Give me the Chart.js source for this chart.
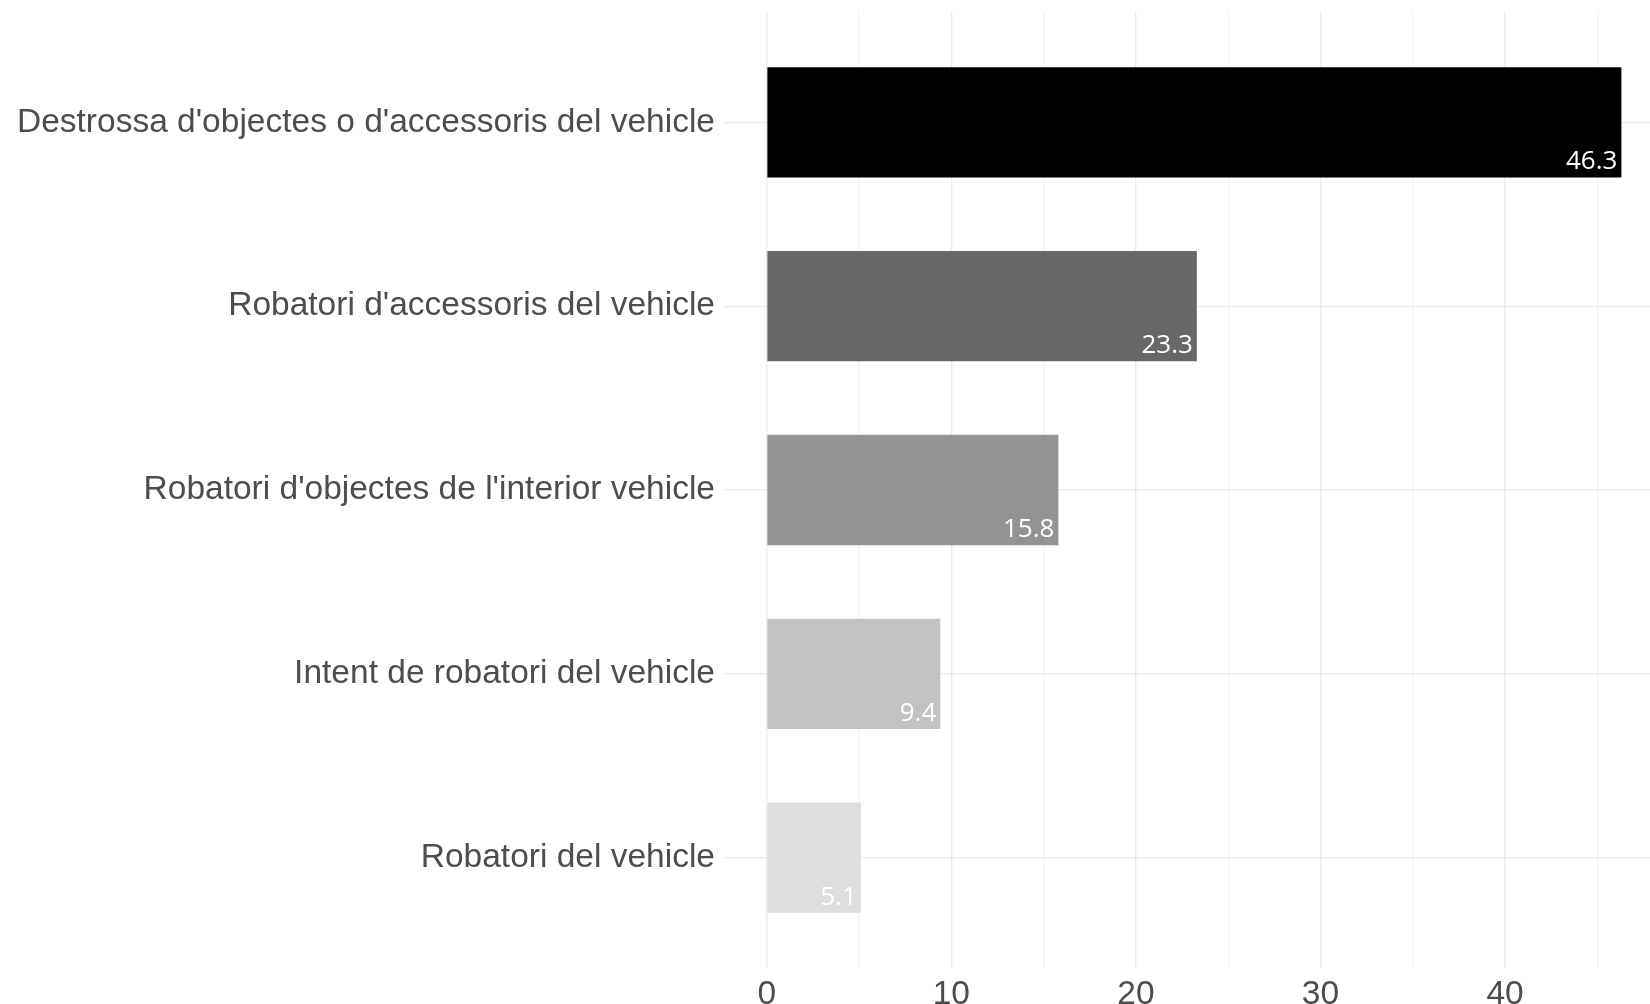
<!DOCTYPE html>
<html>
<head>
<meta charset="utf-8">
<script src="https://cdn.jsdelivr.net/npm/chart.js@4"></script>
<style>
  html, body { margin: 0; padding: 0; background: #fff; overflow: hidden; }
  #wrap { width: 1650px; height: 1004px; }
</style>
</head>
<body>
<div id="wrap"><canvas id="harmChart" width="1650" height="1004"></canvas></div>
<script>
const categories = [
    "Destrossa d'objectes o d'accessoris del vehicle",
    "Robatori d'accessoris del vehicle",
    "Robatori d'objectes de l'interior vehicle",
    "Intent de robatori del vehicle",
    "Robatori del vehicle"
];
const values = [46.3, 23.3, 15.8, 9.4, 5.1];
const barColors = ['#000000', '#686868', '#939393', '#c2c2c2', '#dedede'];
const xTickValues = [0, 5, 10, 15, 20, 25, 30, 35, 40, 45];

// white value labels tucked into the bottom-right corner of each bar
const valueLabels = {
    id: 'valueLabels',
    afterDatasetsDraw(chart) {
        const ctx = chart.ctx;
        const meta = chart.getDatasetMeta(0);
        ctx.save();
        ctx.fillStyle = '#ffffff';
        ctx.font = '26px "Open Sans"';
        ctx.textAlign = 'right';
        ctx.textBaseline = 'alphabetic';
        meta.data.forEach((bar, i) => {
            const bottom = bar.y + bar.height / 2;
            ctx.fillText(values[i].toFixed(1), bar.x - 4, bottom - 8);
        });
        ctx.restore();
    }
};

const ctxHarm = document.getElementById('harmChart').getContext('2d');
const harmChart = new Chart(ctxHarm, {
    type: 'bar',
    data: {
        datasets: [{
            data: values.map((v, i) => ({ x: v, y: i })),
            backgroundColor: barColors,
            borderWidth: 0,
            barPercentage: 0.6,
            categoryPercentage: 1
        }]
    },
    options: {
        indexAxis: 'y',
        responsive: false,
        animation: false,
        layout: { padding: { top: 12, left: 0, right: 0, bottom: 0 } },
        plugins: {
            legend: { display: false },
            tooltip: { enabled: false }
        },
        scales: {
            x: {
                type: 'linear',
                min: -2.315,
                max: 47.85,
                afterBuildTicks: (axis) => { axis.ticks = xTickValues.map(v => ({ value: v })); },
                afterFit: (axis) => {
                    axis.height = 36;
                    axis.paddingLeft = 0;
                    axis.paddingRight = 0;
                },
                border: { display: false },
                grid: {
                    drawTicks: false,
                    lineWidth: 1.3,
                    color: (c) => (c.tick && c.tick.value % 10 === 0) ? '#ebebeb' : '#f3f3f3'
                },
                ticks: {
                    padding: 7,
                    color: '#4d4d4d',
                    font: { family: '"Liberation Sans", Arial', size: 33.5 },
                    callback: (v) => (v % 10 === 0 ? v : '')
                }
            },
            y: {
                type: 'linear',
                reverse: true,
                offset: false,
                min: -0.6,
                max: 4.6,
                afterBuildTicks: (axis) => { axis.ticks = categories.map((c, i) => ({ value: i })); },
                afterFit: (axis) => {
                    axis.width = 724;
                    axis.paddingTop = 0;
                    axis.paddingBottom = 0;
                },
                border: { display: false },
                grid: {
                    offset: false,
                    drawTicks: false,
                    lineWidth: 1.3,
                    color: '#ebebeb'
                },
                ticks: {
                    padding: 9,
                    color: '#4d4d4d',
                    font: { family: '"Liberation Sans", Arial', size: 33.5 },
                    callback: (v) => categories[v]
                }
            }
        }
    },
    plugins: [valueLabels]
});
</script>
</body>
</html>
